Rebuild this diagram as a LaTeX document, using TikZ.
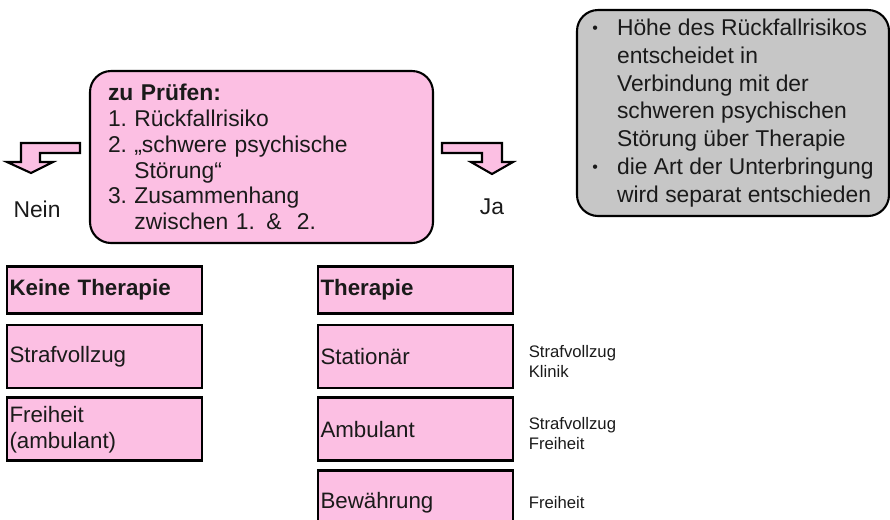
\documentclass[tikz,border=0pt]{standalone}
\usepackage{fontspec}
\setmainfont{Liberation Sans}
\usepackage{xcolor}
\usetikzlibrary{positioning}
\definecolor{boxpink}{HTML}{FCBFE3}
\definecolor{notegray}{HTML}{C6C6C6}
\definecolor{inkdark}{HTML}{1A1A1A}
\newcommand{\itemno}[1]{\makebox[15pt][l]{#1}}
\newcommand{\bul}{\makebox[14pt][l]{\raisebox{1pt}{\scalebox{0.7}{\textbullet}}}}

\begin{document}
\begin{tikzpicture}[
    text=inkdark,
    pruef/.style={draw, line width=1.2pt, rounded corners=12pt, fill=boxpink,
                  minimum width=6.86cm, minimum height=3.44cm, text width=6.14cm,
                  align=left, inner xsep=0.36cm, font=\fontsize{13}{14.7}\selectfont},
    note/.style={draw, line width=1.2pt, rounded corners=12pt, fill=notegray,
                 minimum width=6.24cm, minimum height=4.12cm,
                 align=left, font=\fontsize{13}{15.8}\selectfont},
    hdr/.style={draw, line width=1.7pt, fill=boxpink, minimum width=3.9cm,
                minimum height=0.94cm, text width=3.8cm, align=left, inner xsep=1pt,
                font=\fontsize{12.7}{15}\selectfont\bfseries},
    opt/.style={draw, line width=1.7pt, fill=boxpink, minimum width=3.9cm,
                minimum height=1.26cm, text width=3.8cm, align=left, inner xsep=1pt,
                font=\fontsize{12.7}{15}\selectfont},
    side/.style={align=left, inner sep=0pt, font=\fontsize{9.5}{11.5}\selectfont},
    bent/.style={draw, line width=1.2pt, fill=boxpink, line join=miter}
  ]
    \useasboundingbox (0,0) rectangle (17.8,-10.38);
    \clip (0,0) rectangle (17.8,-10.38);

    % question box and note
    \node[pruef] (pruefen) at (5.23,-3.14) {%
      \textbf{zu Prüfen:}\\
      \itemno{1.}Rückfallrisiko\\
      \itemno{2.}„schwere psychische\\
      \hspace*{15pt}Störung“\\
      \itemno{3.}Zusammenhang\\
      \hspace*{15pt}zwischen 1. \&\ \ 2.};

    \node[note] (hinweis) at (14.66,-2.26) {%
      \bul Höhe des Rückfallrisikos\\
      \hspace*{14pt}entscheidet in\\
      \hspace*{14pt}Verbindung mit der\\
      \hspace*{14pt}schweren psychischen\\
      \hspace*{14pt}Störung über Therapie\\
      \bul die Art der Unterbringung\\
      \hspace*{14pt}wird separat entschieden};

    % bent arrows
    \draw[bent] (1.6,-2.86) -- (0.42,-2.86) -- (0.42,-3.24) -- (0.14,-3.24)
      -- (0.62,-3.46) -- (1.06,-3.24) -- (0.8,-3.24) -- (0.8,-3.06)
      -- (1.6,-3.06) -- cycle;
    \draw[bent] (8.84,-2.86) -- (10.04,-2.86) -- (10.04,-3.24) -- (10.26,-3.24)
      -- (9.84,-3.48) -- (9.42,-3.24) -- (9.64,-3.24) -- (9.64,-3.06)
      -- (8.84,-3.06) -- cycle;

    \node[font=\fontsize{13}{15}\selectfont] (nein) at (0.74,-4.18) {Nein};
    \node[font=\fontsize{13}{15}\selectfont] (ja) at (9.84,-4.14) {Ja};

    % no therapy
    \node[hdr] (keine) at (2.09,-5.79) {Keine Therapie};
    \node[opt, below=0.18cm of keine] (vollzug) {Strafvollzug};
    \node[opt, below=0.14cm of vollzug] (freiheit) {Freiheit\\(ambulant)};

    % therapy
    \node[hdr] (therapie) at (8.31,-5.79) {Therapie};
    \node[opt, below=0.18cm of therapie] (stationaer) {Stationär};
    \node[opt, below=0.14cm of stationaer] (ambulant) {Ambulant};
    \node[opt, below=0.14cm of ambulant] (bewaehrung) {Bewährung};

    \node[side, anchor=west, right=0.28cm of stationaer, yshift=-0.1cm] (ortstat) {Strafvollzug\\Klinik};
    \node[side, anchor=west, right=0.28cm of ambulant, yshift=-0.08cm] (ortamb) {Strafvollzug\\Freiheit};
    \node[side, anchor=west, right=0.28cm of bewaehrung] (ortbew) {Freiheit};
  \end{tikzpicture}
\end{document}
